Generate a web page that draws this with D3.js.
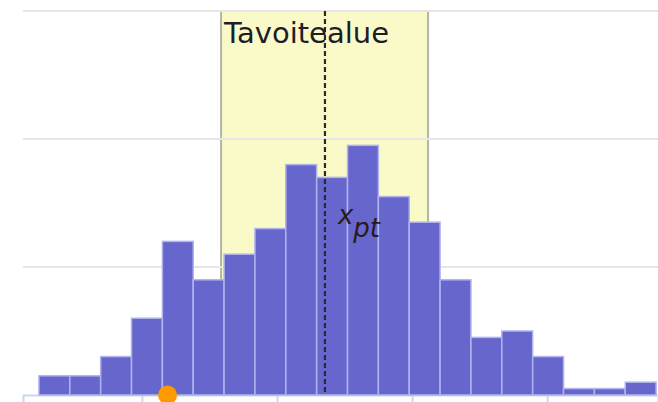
<!DOCTYPE html>
<html>
<head>
<meta charset="utf-8">
<script src="https://cdn.jsdelivr.net/npm/d3@7"></script>
<style>
  html, body { margin: 0; padding: 0; background: #fff; overflow: hidden; }
  svg { display: block; font-family: "DejaVu Sans", Verdana, sans-serif; }
</style>
</head>
<body>
<div id="chart"></div>
<script>
// histogram counts, one per bin
var counts = [3, 3, 6, 12, 24, 18, 22, 26, 36, 34, 39, 31, 27, 18, 9, 10, 6, 1, 1, 2];
var binStart = 2.38;
var binWidth = 2.284;

// x axis ticks and y gridlines
var xTicks = [10, 20, 30, 40];
var yTicks = [20, 40, 60];

// target zone, point estimate and the marked point
var targetZone = [15.86, 31.18];
var targetLabel = "Tavoitealue";
var xpt = 23.55;
var markerValue = 11.9;

var W = 658, H = 402;
var margin = {top: 11, right: 0, bottom: 7, left: 23};

var svg = d3.select("#chart")
  .append("svg")
    .attr("width", W)
    .attr("height", H);

var x = d3.scaleLinear()
  .domain([1.2, 48.2])
  .range([margin.left, W - margin.right]);

var y = d3.scaleLinear()
  .domain([0, 60])
  .range([H - margin.bottom, margin.top]);

var bins = counts.map(function(c, i) {
  return {x0: binStart + i * binWidth, x1: binStart + (i + 1) * binWidth, n: c};
});

// target zone band
svg.append("rect")
  .attr("x", x(targetZone[0]))
  .attr("y", y(60))
  .attr("width", x(targetZone[1]) - x(targetZone[0]))
  .attr("height", y(0) - y(60))
  .attr("fill", "#fafac8");

targetZone.forEach(function(v) {
  svg.append("line")
    .attr("x1", x(v)).attr("x2", x(v))
    .attr("y1", y(60)).attr("y2", y(0))
    .attr("stroke", "#b4b4aa")
    .attr("stroke-width", 2);
});

// gridlines
svg.append("g")
  .selectAll("line")
  .data(yTicks)
  .enter()
  .append("line")
    .attr("x1", margin.left)
    .attr("x2", W)
    .attr("y1", function(d) { return y(d); })
    .attr("y2", function(d) { return y(d); })
    .attr("stroke", "#e6e6e6")
    .attr("stroke-width", 2);

// x axis (labels fall below the visible area)
var xAxis = svg.append("g")
  .attr("transform", "translate(0," + y(0) + ")")
  .call(d3.axisBottom(x).tickValues(xTicks).tickSize(7).tickFormat(""));
xAxis.select(".domain").attr("stroke", "#ccd8e8").attr("stroke-width", 2);
xAxis.selectAll(".tick line").attr("stroke", "#ccd8e8").attr("stroke-width", 2);

// bars
svg.append("g")
  .selectAll("rect")
  .data(bins)
  .enter()
  .append("rect")
    .attr("x", function(d) { return x(d.x0); })
    .attr("y", function(d) { return y(d.n); })
    .attr("width", function(d) { return x(d.x1) - x(d.x0); })
    .attr("height", function(d) { return y(0) - y(d.n); })
    .attr("fill", "#6666cc")
    .attr("stroke", "#b0b4ee")
    .attr("stroke-width", 1.5);

// x_pt dashed line
svg.append("line")
  .attr("x1", x(xpt)).attr("x2", x(xpt))
  .attr("y1", y(60)).attr("y2", y(0))
  .attr("stroke", "#2a2a2a")
  .attr("stroke-width", 2.2)
  .attr("stroke-dasharray", "5,3");

// labels
svg.append("text")
  .attr("x", x(targetZone[0]) + 3)
  .attr("y", 43)
  .attr("font-size", 29)
  .attr("fill", "#1e1e2a")
  .text(targetLabel);

var lbl = svg.append("text")
  .attr("x", x(xpt) + 13)
  .attr("y", 224)
  .attr("font-size", 26)
  .attr("font-style", "italic")
  .attr("fill", "#2a1a1a");
lbl.append("tspan").text("x");
lbl.append("tspan").attr("dy", 13).text("pt");

// marker dot
svg.append("circle")
  .attr("cx", x(markerValue))
  .attr("cy", y(0))
  .attr("r", 9.5)
  .attr("fill", "#ff9900");
</script>
</body>
</html>
